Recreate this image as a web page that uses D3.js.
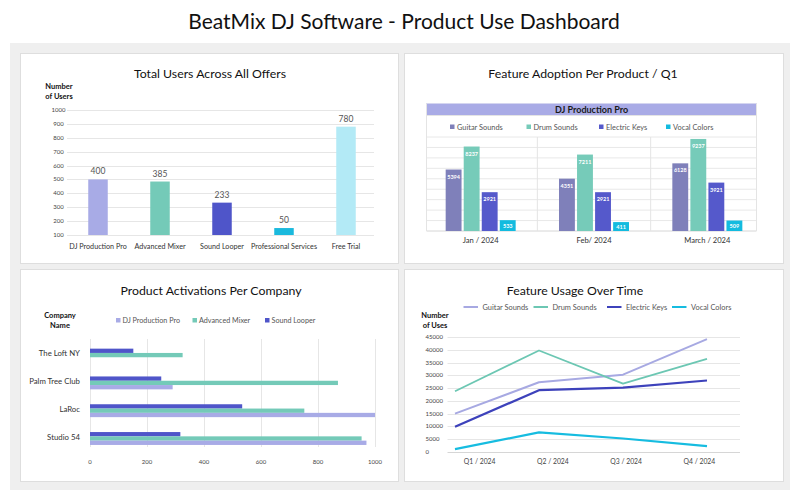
<!DOCTYPE html>
<html>
<head>
<meta charset="utf-8">
<script src="https://cdn.jsdelivr.net/npm/d3@7"></script>
<style>
  html, body { margin: 0; padding: 0; background: #fff; }
  svg { display: block; font-family: Lato, 'Open Sans', sans-serif; }
</style>
</head>
<body>
<div id="dashboard"></div>
<script>
// Total users across all offers
const offers = ['DJ Production Pro', 'Advanced Mixer', 'Sound Looper', 'Professional Services', 'Free Trial']
const offerUsers = [400, 385, 233, 50, 780]
const offerColours = ['#a8abe6', '#74cab8', '#4f55c9', '#1ab9dd', '#b3eaf6']
const userTickLabels = ['100', '200', '300', '400', '500', '600', '700', '800', '900', '1000']

// Feature adoption per product / Q1
const months = ['Jan / 2024', 'Feb/ 2024', 'March / 2024']
const features = ['Guitar Sounds', 'Drum Sounds', 'Electric Keys', 'Vocal Colors']
const featureColours = ['#7f80ba', '#76cbb9', '#5559cb', '#13bbdf']
const guitarAdoption = [5394, 4351, 6128]
const drumAdoption = [8237, 7211, 9237]
const keysAdoption = [2921, 2921, 3921]
const vocalAdoption = [533, 411, 509]

// Product activations per company
const companies = ['The Loft NY', 'Palm Tree Club', 'LaRoc', 'Studio 54']
const activationProducts = ['DJ Production Pro', 'Advanced Mixer', 'Sound Looper']
const activationColours = ['#a8abe6', '#74cab8', '#4f55c9']
const djProActivations = [0, 290, 1000, 970]
const mixerActivations = [325, 870, 752, 953]
const looperActivations = [152, 250, 534, 317]
const activationTicks = [0, 200, 400, 600, 800, 1000]

// Feature usage over time
const quarters = ['Q1 / 2024', 'Q2 / 2024', 'Q3 / 2024', 'Q4 / 2024']
const lineColours = ['#a7a9e2', '#6cc7b3', '#3d42bb', '#16bce0']
const guitarUses = [15000, 27300, 30300, 44300]
const drumUses = [23800, 39800, 26800, 36500]
const keysUses = [9800, 24200, 25200, 28000]
const vocalUses = [1000, 7600, 5200, 2200]
const usesTicks = [0, 5000, 10000, 15000, 20000, 25000, 30000, 35000, 40000, 45000]

const svg = d3.select('#dashboard').append('svg')
  .attr('width', 800)
  .attr('height', 501)

svg.append('text')
  .attr('x', 404)
  .attr('y', 29)
  .attr('text-anchor', 'middle')
  .style('font-size', '21px')
  .attr('fill', '#111')
  .text('BeatMix DJ Software - Product Use Dashboard')

// Grey backdrop and white panels
svg.append('rect')
  .attr('x', 10).attr('y', 43)
  .attr('width', 780).attr('height', 447)
  .attr('fill', '#efefef')

const panels = [[20, 53, 378, 210], [404, 53, 379, 210], [20, 269, 378, 212], [404, 269, 379, 212]]
panels.forEach(p => {
  svg.append('rect')
    .attr('x', p[0] + 0.5).attr('y', p[1] + 0.5)
    .attr('width', p[2]).attr('height', p[3])
    .attr('fill', '#fff')
    .attr('stroke', '#dedede')
})

function panelTitle(x, y, text) {
  svg.append('text')
    .attr('x', x)
    .attr('y', y)
    .attr('text-anchor', 'middle')
    .style('font-size', '12.3px')
    .attr('fill', '#111')
    .text(text)
}

function boldLabel(x, y, lines) {
  const t = svg.append('text')
    .attr('text-anchor', 'middle')
    .style('font-size', '7.5px')
    .style('font-weight', 'bold')
    .attr('fill', '#111')
  lines.forEach((l, i) => {
    t.append('tspan').attr('x', x).attr('y', y + i * 10).text(l)
  })
}

// ---------- Total Users Across All Offers ----------
{
  panelTitle(210, 78, 'Total Users Across All Offers')
  boldLabel(59, 89, ['Number', 'of Users'])

  const y = d3.scaleLinear().domain([0, 900]).range([235, 110])
  const x = d3.scaleBand().domain(offers).range([67, 377])
  const g = svg.append('g')

  g.selectAll('.grid')
    .data(userTickLabels)
    .join('line')
    .attr('x1', 67).attr('x2', 374)
    .attr('y1', (d, i) => Math.round(y(i * 100)) + 0.5)
    .attr('y2', (d, i) => Math.round(y(i * 100)) + 0.5)
    .attr('stroke', '#e6e6e6')

  g.selectAll('.tick-label')
    .data(userTickLabels)
    .join('text')
    .attr('x', 58.5)
    .attr('y', (d, i) => y(i * 100) + 2)
    .attr('text-anchor', 'middle')
    .style('font-size', '6px')
    .attr('fill', '#444')
    .text(d => d)

  const bw = 19.5
  g.selectAll('.bar')
    .data(offers)
    .join('rect')
    .attr('x', d => x(d) + x.bandwidth() / 2 - bw / 2)
    .attr('y', (d, i) => y(offerUsers[i]))
    .attr('width', bw)
    .attr('height', (d, i) => y(0) - y(offerUsers[i]))
    .attr('fill', (d, i) => offerColours[i])

  g.selectAll('.value')
    .data(offers)
    .join('text')
    .attr('x', d => x(d) + x.bandwidth() / 2)
    .attr('y', (d, i) => y(offerUsers[i]) - 5)
    .attr('text-anchor', 'middle')
    .style('font-size', '8.5px')
    .attr('fill', '#555')
    .text((d, i) => offerUsers[i])

  g.selectAll('.cat')
    .data(offers)
    .join('text')
    .attr('x', d => x(d) + x.bandwidth() / 2)
    .attr('y', 248.5)
    .attr('text-anchor', 'middle')
    .style('font-size', '7.2px')
    .attr('fill', '#333')
    .text(d => d)
}

// ---------- Feature Adoption Per Product / Q1 ----------
{
  panelTitle(583, 78, 'Feature Adoption Per Product / Q1')

  const left = 426.5, right = 756.5
  const top = 137, bottom = 231
  const g = svg.append('g')

  // header band
  g.append('rect')
    .attr('x', left).attr('y', 103.5)
    .attr('width', right - left).attr('height', 12)
    .attr('fill', '#a9abe6')
    .attr('stroke', '#d4d5f0')
  g.append('text')
    .attr('x', (left + right) / 2)
    .attr('y', 112.5)
    .attr('text-anchor', 'middle')
    .style('font-size', '9px')
    .style('font-weight', 'bold')
    .attr('fill', '#1a1a1a')
    .text('DJ Production Pro')

  // legend
  const legendX = [450, 526.5, 599, 666]
  features.forEach((f, i) => {
    g.append('rect')
      .attr('x', legendX[i]).attr('y', 124.5)
      .attr('width', 4.5).attr('height', 4.5)
      .attr('fill', featureColours[i])
    g.append('text')
      .attr('x', legendX[i] + 7)
      .attr('y', 129.5)
      .style('font-size', '7.4px')
      .attr('fill', '#555')
      .text(f)
  })

  // grid
  const gridY = d3.scaleLinear().domain([0, 9]).range([bottom, top])
  g.selectAll('.grid')
    .data(d3.range(10))
    .join('line')
    .attr('x1', left).attr('x2', right)
    .attr('y1', d => gridY(d)).attr('y2', d => gridY(d))
    .attr('stroke', d => d === 0 ? '#d6d6d6' : '#e8e8e8')

  const x0 = d3.scaleBand().domain(months).range([424, 764])
  const x1 = d3.scaleBand().domain(features).range([0, 70]).paddingInner(0.12)
  const y = d3.scalePow().exponent(0.75).domain([0, 9500]).range([bottom, top])

  g.selectAll('.sep')
    .data(months.slice(1))
    .join('line')
    .attr('x1', d => x0(d)).attr('x2', d => x0(d))
    .attr('y1', top).attr('y2', bottom)
    .attr('stroke', '#e4e4e4')
  g.append('line')
    .attr('x1', left).attr('x2', left).attr('y1', 103.5).attr('y2', bottom)
    .attr('stroke', '#e4e4e4')
  g.append('line')
    .attr('x1', right).attr('x2', right).attr('y1', 103.5).attr('y2', bottom)
    .attr('stroke', '#e4e4e4')
  g.append('line')
    .attr('x1', left).attr('x2', right).attr('y1', 115.5).attr('y2', 115.5)
    .attr('stroke', '#e4e4e4')

  const series = [guitarAdoption, drumAdoption, keysAdoption, vocalAdoption]
  const cells = []
  months.forEach((m, mi) => {
    features.forEach((f, fi) => {
      cells.push({ month: m, feature: f, value: series[fi][mi], colour: featureColours[fi] })
    })
  })

  const groupX = d => x0(d.month) + x0.bandwidth() / 2 - 35 + x1(d.feature)
  g.selectAll('.bar')
    .data(cells)
    .join('rect')
    .attr('x', groupX)
    .attr('y', d => y(d.value))
    .attr('width', x1.bandwidth())
    .attr('height', d => bottom - y(d.value))
    .attr('fill', d => d.colour)

  g.selectAll('.bar-label')
    .data(cells)
    .join('text')
    .attr('x', d => groupX(d) + x1.bandwidth() / 2)
    .attr('y', d => y(d.value) + Math.min(7, (bottom - y(d.value)) / 2) + 2)
    .attr('text-anchor', 'middle')
    .style('font-size', '5.5px')
    .style('font-weight', 'bold')
    .attr('fill', '#fff')
    .text(d => d.value)

  g.selectAll('.cat')
    .data(months)
    .join('text')
    .attr('x', d => x0(d) + x0.bandwidth() / 2)
    .attr('y', 243)
    .attr('text-anchor', 'middle')
    .style('font-size', '7.6px')
    .attr('fill', '#333')
    .text(d => d)
}

// ---------- Product Activations Per Company ----------
{
  panelTitle(211, 295, 'Product Activations Per Company')
  boldLabel(60, 318, ['Company', 'Name'])

  const g = svg.append('g')
  const x = d3.scaleLinear().domain([0, 1000]).range([90, 375])
  const y0 = d3.scaleBand().domain(companies).range([341.2, 452.4])
  const barH = 4.3

  const legendX = [116, 192.5, 265]
  activationProducts.forEach((p, i) => {
    g.append('rect')
      .attr('x', legendX[i]).attr('y', 318)
      .attr('width', 4.5).attr('height', 4.5)
      .attr('fill', activationColours[i])
    g.append('text')
      .attr('x', legendX[i] + 6.5)
      .attr('y', 323)
      .style('font-size', '7.2px')
      .attr('fill', '#555')
      .text(p)
  })

  g.selectAll('.grid')
    .data(activationTicks)
    .join('line')
    .attr('x1', d => Math.round(x(d)) + 0.5).attr('x2', d => Math.round(x(d)) + 0.5)
    .attr('y1', 339).attr('y2', 447)
    .attr('stroke', '#e6e6e6')

  g.selectAll('.tick-label')
    .data(activationTicks)
    .join('text')
    .attr('x', d => x(d))
    .attr('y', 463.5)
    .attr('text-anchor', 'middle')
    .style('font-size', '6px')
    .attr('fill', '#444')
    .text(d => d)

  // bars top to bottom: Sound Looper, Advanced Mixer, DJ Production Pro
  const rows = [looperActivations, mixerActivations, djProActivations]
  const rowColours = [activationColours[2], activationColours[1], activationColours[0]]
  const bars = []
  companies.forEach((c, ci) => {
    rows.forEach((r, ri) => bars.push({ company: c, slot: ri, value: r[ci], colour: rowColours[ri] }))
  })

  g.selectAll('.bar')
    .data(bars)
    .join('rect')
    .attr('x', x(0))
    .attr('y', d => y0(d.company) + y0.bandwidth() / 2 - 1.5 * barH + d.slot * barH)
    .attr('width', d => x(d.value) - x(0))
    .attr('height', barH)
    .attr('fill', d => d.colour)

  g.selectAll('.cat')
    .data(companies)
    .join('text')
    .attr('x', 80)
    .attr('y', d => y0(d) + y0.bandwidth() / 2 + 1)
    .attr('text-anchor', 'end')
    .style('font-size', '7.8px')
    .attr('fill', '#333')
    .text(d => d)
}

// ---------- Feature Usage Over Time ----------
{
  panelTitle(575, 295, 'Feature Usage Over Time')
  boldLabel(435, 318, ['Number', 'of Uses'])

  const g = svg.append('g')
  const y = d3.scaleLinear().domain([0, 45000]).range([451.7, 337.3])
  const xLabel = d3.scaleBand().domain(quarters).range([443, 736])
  const x = d3.scalePoint().domain(quarters).range([455, 707])

  const legendX = [463.5, 533.5, 607, 672]
  features.forEach((f, i) => {
    g.append('line')
      .attr('x1', legendX[i]).attr('x2', legendX[i] + 14.5)
      .attr('y1', 307).attr('y2', 307)
      .attr('stroke', lineColours[i])
      .attr('stroke-width', 2)
    g.append('text')
      .attr('x', legendX[i] + 19)
      .attr('y', 309.5)
      .style('font-size', '7.4px')
      .attr('fill', '#555')
      .text(f)
  })

  g.selectAll('.grid')
    .data(usesTicks)
    .join('line')
    .attr('x1', 447.5).attr('x2', 740)
    .attr('y1', d => Math.round(y(d)) + 0.5).attr('y2', d => Math.round(y(d)) + 0.5)
    .attr('stroke', d => d === 0 ? '#d6d6d6' : '#e6e6e6')

  g.selectAll('.tick-label')
    .data(usesTicks)
    .join('text')
    .attr('x', 425.5)
    .attr('y', d => y(d) + 2)
    .style('font-size', '6px')
    .attr('fill', '#444')
    .text(d => d)

  g.selectAll('.cat')
    .data(quarters)
    .join('text')
    .attr('x', d => xLabel(d) + xLabel.bandwidth() / 2)
    .attr('y', 463.5)
    .attr('text-anchor', 'middle')
    .style('font-size', '6.8px')
    .attr('fill', '#444')
    .text(d => d)

  const line = d3.line()
    .x((d, i) => x(quarters[i]))
    .y(d => y(d))

  const series = [guitarUses, drumUses, keysUses, vocalUses]
  const widths = [2, 1.8, 2.2, 2.2]
  series.forEach((s, i) => {
    g.append('path')
      .datum(s)
      .attr('d', line)
      .attr('fill', 'none')
      .attr('stroke', lineColours[i])
      .attr('stroke-width', widths[i])
      .attr('stroke-linejoin', 'round')
  })
}
</script>
</body>
</html>
